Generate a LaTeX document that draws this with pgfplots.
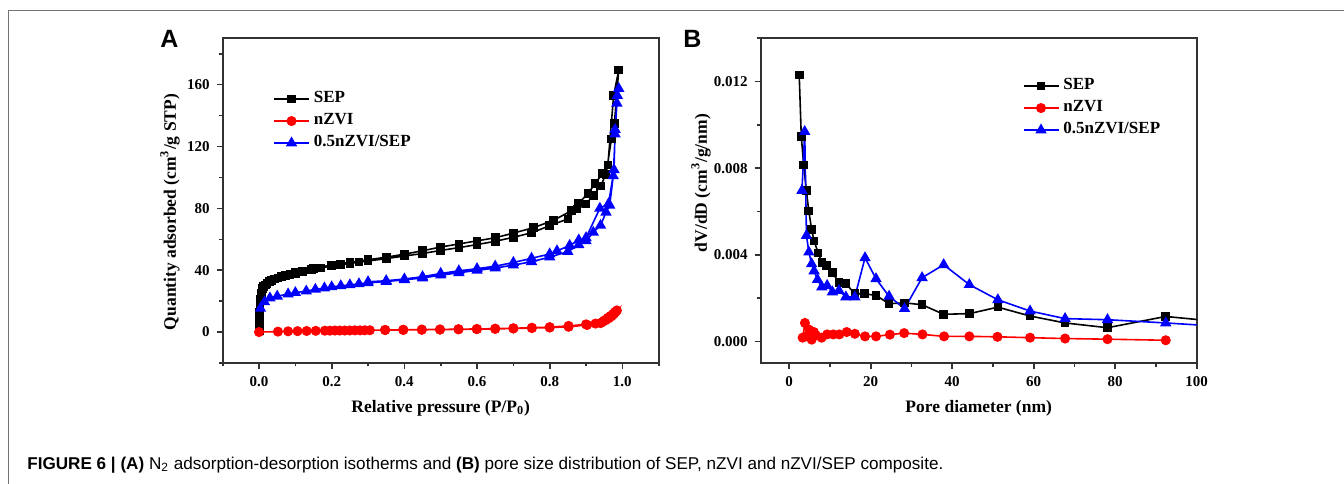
\documentclass[border=0pt]{standalone}
\usepackage{fontspec}
\setmainfont{Liberation Serif}
\newfontfamily\capfont{Liberation Sans}
\usepackage{pgfplots}
\pgfplotsset{compat=1.18}
\definecolor{axgray}{RGB}{50,50,50}
\pgfplotsset{
  myax/.style={
    scale only axis, width=218bp, height=162.35bp,
    anchor=south west,
    axis line style={line width=0.9bp, draw=axgray},
    every tick/.style={line width=0.8bp, axgray},
    tick align=outside, tick pos=left,
    major tick length=3bp, minor tick length=1.75bp,
    tick label style={font=\fontsize{7.5bp}{9bp}\selectfont\bfseries},
    label style={font=\fontsize{8.75bp}{10bp}\selectfont\bfseries},
    /pgf/number format/assume math mode=true,
    scaled ticks=false,
    legend cell align=left,
    legend style={draw=none, fill=none, anchor=north west,
      font=\fontsize{8.5bp}{10bp}\selectfont\bfseries,
      inner sep=0pt, row sep=0pt, column sep=2bp,
      nodes={inner sep=0pt, text height=7bp, text depth=4bp}},
    legend image code/.code={\draw[mark repeat=2,mark phase=2,##1] plot coordinates {(0bp,0bp) (8.75bp,0bp) (17.5bp,0bp)};},
  },
  sep/.style={black, line width=0.8bp, mark=square*, mark size=1.75bp, mark options={solid}},
  nz/.style={red, line width=0.8bp, mark=*, mark size=2.1bp, mark options={solid}},
  cmp/.style={blue, line width=0.8bp, mark=triangle*, mark size=2.5bp, mark options={solid}},
}
\begin{document}
\begin{tikzpicture}
\path[use as bounding box] (0bp,0bp) rectangle (672bp,242bp);
\draw[line width=0.75bp, black!55] (4.25bp,0bp) -- (4.25bp,236.75bp) -- (672bp,236.75bp);
\node[anchor=base west, inner sep=0pt, font=\capfont\bfseries\fontsize{12.5bp}{14bp}\selectfont] at (80bp,218bp) {A};
\node[anchor=base west, inner sep=0pt, font=\capfont\bfseries\fontsize{12.5bp}{14bp}\selectfont] at (341.5bp,218bp) {B};
\node[anchor=base west, inner sep=0pt, font=\capfont\fontsize{8.55bp}{10bp}\selectfont] at (13.5bp,7.25bp)
  {\textbf{FIGURE 6 | (A)} N\textsubscript{2} adsorption-desorption isotherms and \textbf{(B)} pore size distribution of SEP, nZVI and nZVI/SEP composite.};

% ---------------- Panel A ----------------
\begin{axis}[myax, at={(111.35bp,60.5bp)},
  xmin=-0.1, xmax=1.1, ymin=-20, ymax=190,
  xtick={0,0.2,0.4,0.6,0.8,1.0},
  minor xtick={-0.1,0.1,0.3,0.5,0.7,0.9,1.1},
  ytick={0,40,80,120,160},
  minor ytick={-20,20,60,100,140,180},
  xticklabel style={/pgf/number format/.cd, fixed, fixed zerofill, precision=1},
  xlabel={Relative pressure (P/P\textsubscript{0})},
  ylabel={Quantity adsorbed (cm\textsuperscript{3}/g STP)},
  xlabel style={at={(axis description cs:0.5,-0.139)}, anchor=center},
  ylabel style={at={(axis description cs:-0.121,0.465)}, anchor=center},
  legend style={at={(axis description cs:0.115,0.848)}},
]
\addplot[sep] coordinates {
(0.0005,1) (0.001,4) (0.0013,7) (0.0016,10) (0.002,13) (0.0025,16) (0.003,18.5) (0.004,21) (0.005,23) (0.006,24.8) (0.008,26.5) (0.01,28) (0.013,29.3) (0.017,30.5) (0.022,31.6) (0.028,32.6) (0.035,33.5) (0.043,34.3) (0.052,35.1) (0.062,35.8) (0.073,36.5) (0.085,37.2) (0.1,38) (0.12,39.2) (0.145,40.4) (0.17,41.5) (0.2,42.7) (0.225,43.6) (0.25,44.4) (0.275,45.2) (0.3,46) (0.35,47.5) (0.4,49.2) (0.45,50.8) (0.5,52.8) (0.55,54.6) (0.6,56.6) (0.65,58.7) (0.7,61.3) (0.75,64.2) (0.8,68.8) (0.85,73.2) (0.875,79.5) (0.9,82.8) (0.92,88.5) (0.94,94.5) (0.955,102) (0.97,125) (0.978,135) (0.99,169.5)
(0.976,153) (0.96,108) (0.945,102.5) (0.925,96) (0.905,89.5) (0.88,83.5) (0.86,78.5) (0.81,72.2) (0.755,67.5) (0.70,64) (0.65,61) (0.6,59) (0.55,57) (0.5,55) (0.45,52.6) (0.4,50.4) (0.35,48.4) (0.3,46.8) (0.25,45.2) (0.2,43.4) (0.15,41.2) (0.1,38.6)
};
\addlegendentry{SEP}
\addplot[nz] coordinates {
(0,0) (0.052,0.3) (0.08,0.5) (0.106,0.6) (0.131,0.7) (0.156,0.8) (0.181,0.9) (0.195,0.9) (0.209,1) (0.222,1) (0.236,1) (0.25,1.05) (0.264,1.1) (0.278,1.1) (0.291,1.15) (0.305,1.2) (0.347,1.3) (0.397,1.4) (0.448,1.5) (0.498,1.6) (0.549,1.75) (0.599,1.9) (0.65,2.05) (0.7,2.3) (0.751,2.6) (0.8,2.9) (0.852,3.4) (0.903,4.6) (0.926,5.5) (0.945,6.5) (0.955,7.8) (0.963,9) (0.97,10.2) (0.976,11.5) (0.981,12.8) (0.985,14)
(0.98,13) (0.975,11.8) (0.968,10.5) (0.96,9.2) (0.95,7.5) (0.94,5.8) (0.9,5) (0.852,4) (0.8,3.2) (0.751,2.8) (0.7,2.5) (0.65,2.2) (0.6,2.0) (0.549,1.9) (0.498,1.7) (0.448,1.6) (0.397,1.5) (0.347,1.4)
};
\addlegendentry{nZVI}
\addplot[cmp] coordinates {
(0.004,15.3) (0.015,19.5) (0.03,22) (0.05,23.2) (0.08,24.6) (0.1,25.5) (0.13,26.5) (0.155,27.6) (0.18,28.5) (0.2,29.2) (0.225,29.9) (0.25,30.5) (0.275,31.2) (0.3,31.8) (0.35,32.7) (0.4,33.8) (0.45,35) (0.5,36.8) (0.55,38.4) (0.6,39.9) (0.65,41.4) (0.7,43.3) (0.75,45.5) (0.8,48.5) (0.85,52) (0.88,56.5) (0.9,59) (0.92,64.5) (0.94,69) (0.955,77.5) (0.965,82) (0.975,101) (0.98,128) (0.985,148) (0.99,157.5)
(0.986,153) (0.98,131) (0.977,105) (0.962,83) (0.938,80) (0.9,61) (0.88,59.5) (0.855,56) (0.82,52.5) (0.8,50.5) (0.75,47.7) (0.7,45) (0.65,42.6) (0.6,41) (0.55,39.6) (0.5,37.9) (0.45,35.8) (0.4,34.3) (0.35,33.2) (0.3,32.5)
};
\addlegendentry{0.5nZVI/SEP}
\end{axis}

% ---------------- Panel B ----------------
\begin{axis}[myax, at={(380.35bp,60.5bp)},
  xmin=-7, xmax=100, ymin=-0.001, ymax=0.014,
  xtick={0,20,40,60,80,100},
  minor xtick={10,30,50,70,90},
  ytick={0,0.004,0.008,0.012},
  minor ytick={0.002,0.006,0.010,0.014},
  yticklabel style={/pgf/number format/.cd, fixed, fixed zerofill, precision=3},
  xlabel={Pore diameter (nm)},
  ylabel={dV/dD (cm\textsuperscript{3}/g/nm)},
  xlabel style={at={(axis description cs:0.5,-0.139)}, anchor=center},
  ylabel style={at={(axis description cs:-0.137,0.554)}, anchor=center},
  legend style={at={(axis description cs:0.6,0.888)}},
]
\addplot[sep] coordinates {
(2.45,0.01231) (2.96,0.00946) (3.55,0.00815) (4.2,0.00697) (4.8,0.00602) (5.5,0.00517) (6.1,0.00463) (7.1,0.00409) (8.0,0.00363) (9.2,0.00351) (10.6,0.00317) (12.2,0.00271) (13.9,0.00266) (16.1,0.0022) (18.5,0.0022) (21.3,0.00212) (24.5,0.00174) (28.3,0.00178) (32.6,0.00169) (37.9,0.00125) (44.2,0.00128) (51.2,0.00158) (59.1,0.00117) (67.7,0.00085) (78.1,0.00063) (92.4,0.00115) (112,0.00079)
};
\addlegendentry{SEP}
\addplot[nz] coordinates {
(3.29,0.00017) (3.85,0.00085) (4.3,0.00025) (4.9,0.00054) (5.5,0.00008) (6.06,0.00043) (6.55,0.00028) (7.95,0.00017) (9.3,0.00032) (10.8,0.00032) (12.3,0.00032) (14.1,0.00043) (16.1,0.00035) (18.6,0.00023) (21.3,0.00023) (24.7,0.00031) (28.2,0.00038) (32.7,0.00032) (38,0.00023) (44.2,0.00023) (51.1,0.00021) (59.1,0.00017) (67.7,0.00013) (78.1,0.0001) (92.4,0.00005)
};
\addlegendentry{nZVI}
\addplot[cmp] coordinates {
(3.13,0.00697) (3.8,0.00969) (4.23,0.00489) (4.82,0.00412) (5.5,0.00358) (6.1,0.00325) (6.94,0.00285) (8.0,0.00251) (9.3,0.00258) (10.6,0.00228) (12.2,0.00235) (13.9,0.00205) (16.1,0.00205) (18.6,0.00386) (21.3,0.00289) (24.5,0.00208) (28.3,0.00151) (32.6,0.00294) (37.9,0.00354) (44.2,0.00262) (51.2,0.00192) (59.1,0.0014) (67.7,0.00105) (78.1,0.001) (92.4,0.00085) (112,0.00062)
};
\addlegendentry{0.5nZVI/SEP}
\end{axis}
\end{tikzpicture}
\end{document}
